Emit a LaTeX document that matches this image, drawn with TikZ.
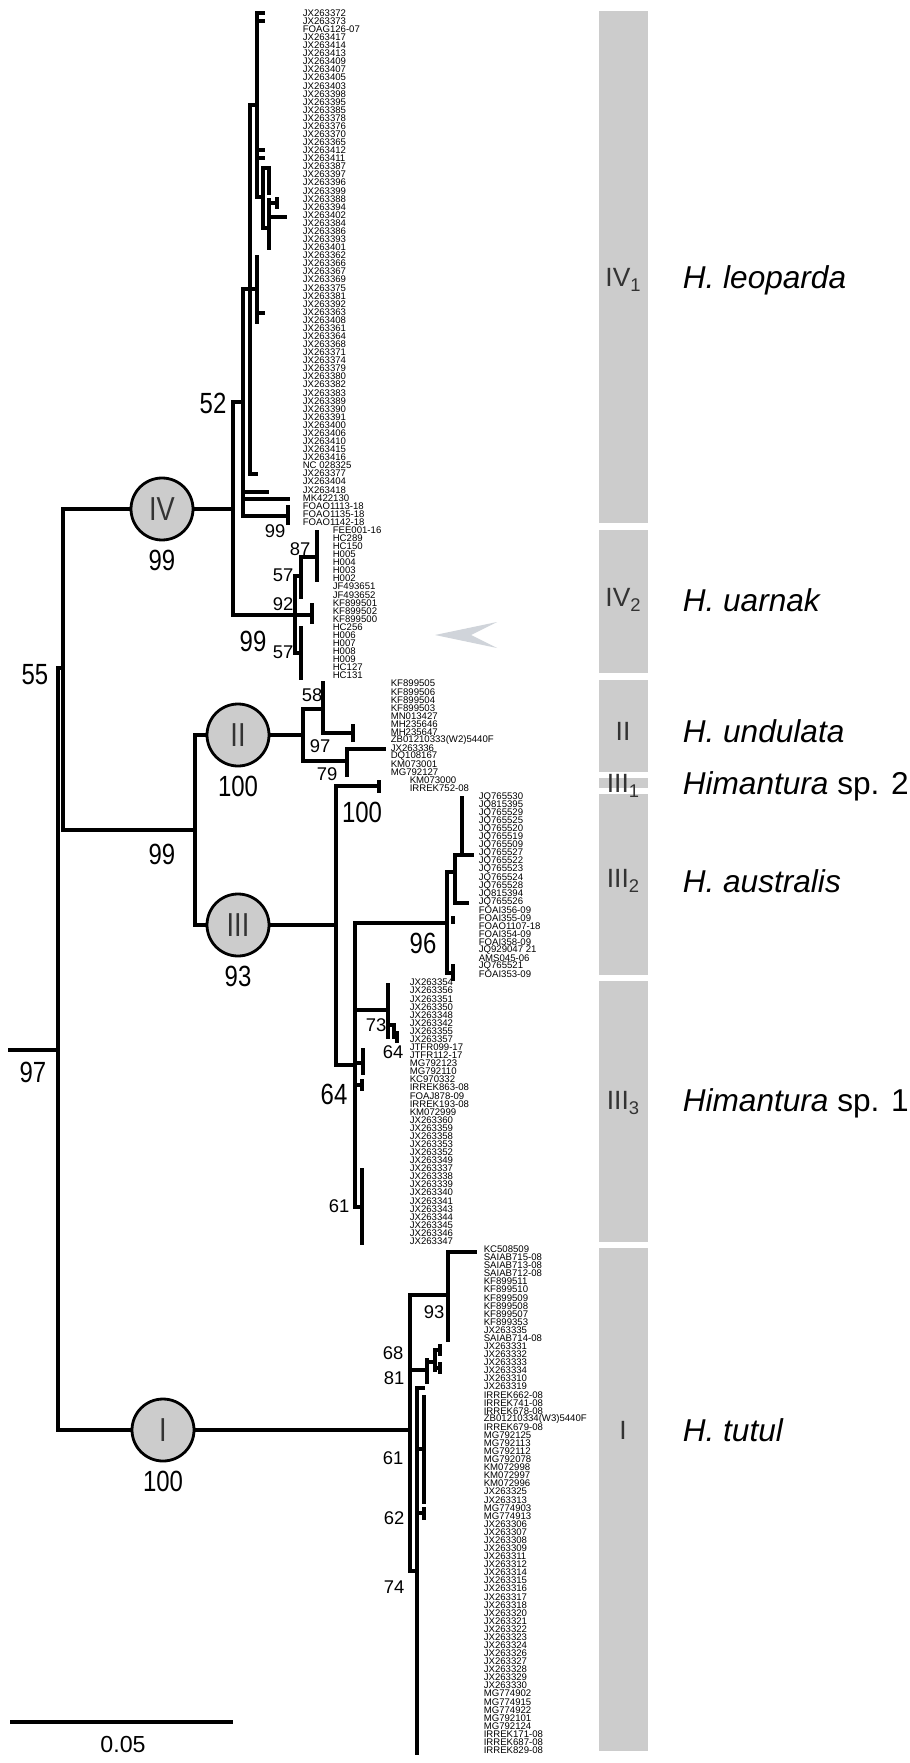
\documentclass[tikz,border=0pt]{standalone}
\usepackage{fontspec}
\setmainfont{Liberation Sans}
\newfontfamily\condfont[FakeStretch=0.82]{Liberation Sans}
\definecolor{bargray}{RGB}{204,204,204}
\definecolor{darktext}{RGB}{51,51,51}
\definecolor{arrowgray}{RGB}{208,212,218}
\newcommand{\sbs}[1]{\raisebox{-0.3ex}{\fontsize{4.6}{4.6}\selectfont #1}}
\newcommand{\leafcol}[3]{%
  \foreach \t [count=\k from #2] in {#3}
    \node[leaf] at (#1,{13+8.08*\k}) {\t};}
\tikzset{
  br/.style={line width=0.85pt, line join=miter, line cap=rect},
  leaf/.style={anchor=west, inner sep=0pt, font=\fontsize{2.4}{2.4}\selectfont},
  bsmall/.style={inner sep=0pt, font=\fontsize{4.6}{4.6}\selectfont},
  bbig/.style={inner sep=0pt, font=\condfont\fontsize{7.3}{7.3}\selectfont},
  clade/.style={circle, draw, line width=0.7pt, fill=bargray, minimum size=15.5pt,
    inner sep=0pt, text=darktext, font=\condfont\fontsize{8.3}{8.3}\selectfont},
  grp/.style={inner sep=0pt, text=darktext, font=\fontsize{6.6}{6.6}\selectfont},
  species/.style={anchor=west, inner sep=0pt, font=\fontsize{7.9}{7.9}\selectfont}
}
\begin{document}
\begin{tikzpicture}[x=0.25pt,y=-0.25pt]
\useasboundingbox (0,0) rectangle (909,1763);

% Clade bars
\foreach \ya/\yb in {11/523,530/673,680/772,778/788,794/975,981/1242,1248/1751}
  \fill[bargray] (599,\ya) rectangle (648,\yb);
\node[grp] (gIVa) at (623,280) {IV\sbs{1}};
\node[grp] (gIVb) at (623,600) {IV\sbs{2}};
\node[grp] (gII) at (623,731) {II};
\node[grp] (gIIIa) at (623,786) {III\sbs{1}};
\node[grp] (gIIIb) at (623,881) {III\sbs{2}};
\node[grp] (gIIIc) at (623,1103) {III\sbs{3}};
\node[grp] (gI) at (623,1430) {I};
\node[species] (sIVa) at (682,280) {\textit{H. leoparda}};
\node[species] (sIVb) at (682,600) {\textit{H. uarnak}};
\node[species] (sII) at (682,731) {\textit{H. undulata}};
\node[species] (sIIIa) at (682,786) {\textit{Himantura} sp. 2};
\node[species] (sIIIb) at (682,881) {\textit{H. australis}};
\node[species] (sIIIc) at (682,1103) {\textit{Himantura} sp. 1};
\node[species] (sI) at (682,1430) {\textit{H. tutul}};

% Pointer
\fill[arrowgray] (435,635) -- (497,622) -- (471,635) -- (497,648) -- cycle;

% Clade circles
\node[clade] (cIV) at (162,509) {IV};
\node[clade] (cII) at (238,735) {II};
\node[clade] (cIII) at (238,925) {III};
\node[clade] (cI) at (163,1430) {I};

% Deep nodes
\draw[br] (10,1050) -- (58,1050);
\draw[br] (58,668) -- (58,1430);
\draw[br] (58,668) -- (63,668);
\draw[br] (63,509) -- (63,830);
\draw[br] (63,509) -- (cIV) -- (233,509);
\draw[br] (63,830) -- (195,830);
\draw[br] (195,735) -- (195,925);
\draw[br] (195,735) -- (cII) -- (303,735);
\draw[br] (195,925) -- (cIII) -- (336,925);
\draw[br] (58,1430) -- (cI) -- (410,1430);

% IV1
\draw[br] (233,402) -- (233,615);
\draw[br] (233,402) -- (243,402);
\draw[br] (243,289) -- (243,516);
\draw[br] (243,289) -- (257,289);
\draw[br] (250,105) -- (250,474) -- (256,474);
\draw[br] (250,105) -- (257,105);
\draw[br] (257,13) -- (257,197) -- (263,197);
\foreach \y in {13,21,150,158}
  \draw[br] (257,\y) -- (263,\y);
\draw[br] (263,168) -- (263,228);
\draw[br] (263,168) -- (269,168) -- (269,193);
\draw[br] (263,228) -- (269,228);
\draw[br] (269,200) -- (269,248);
\draw[br] (269,203) -- (277,203);
\draw[br] (277,199) -- (277,207);
\draw[br] (269,217) -- (285,217);
\draw[br] (257,257) -- (257,322);
\draw[br] (257,313) -- (263,313);
\draw[br] (243,492) -- (267,492);
\draw[br] (243,499) -- (288,499);
\draw[br] (243,516) -- (288,516);
\draw[br] (288,507) -- (288,523);

% IV2
\draw[br] (233,615) -- (312,615);
\draw[br] (312,605) -- (312,622);
\draw[br] (295,576) -- (295,653);
\draw[br] (295,576) -- (301,576);
\draw[br] (301,557) -- (301,597);
\draw[br] (301,557) -- (317,557);
\draw[br] (317,532) -- (317,580);
\draw[br] (295,653) -- (301,653);
\draw[br] (301,628) -- (301,678);

% II
\draw[br] (303,709) -- (303,761);
\draw[br] (303,709) -- (323,709);
\draw[br] (323,683) -- (323,733) -- (353,733);
\draw[br] (353,726) -- (353,740);
\draw[br] (303,761) -- (347,761);
\draw[br] (347,749) -- (347,775);
\draw[br] (347,749) -- (384,749);

% III
\draw[br] (336,786) -- (336,1065) -- (355,1065);
\draw[br] (336,786) -- (379,786);
\draw[br] (379,782) -- (379,791);
\draw[br] (355,923) -- (355,1207) -- (362,1207);
\draw[br] (362,1170) -- (362,1243);
\draw[br] (355,923) -- (447,923);
\draw[br] (447,872) -- (447,973) -- (453,973);
\draw[br] (453,966) -- (453,979);
\draw[br] (453,918) -- (453,922);
\draw[br] (447,872) -- (455,872);
\draw[br] (455,855) -- (455,903) -- (467,903);
\draw[br] (455,855) -- (472,855);
\draw[br] (462,798) -- (462,855);
\draw[br] (355,1010) -- (388,1010);
\draw[br] (388,985) -- (388,1037);
\draw[br] (388,1025) -- (394,1025) -- (394,1037) -- (397,1037);
\draw[br] (397,1033) -- (397,1041);
\draw[br] (355,1063) -- (363,1063);
\draw[br] (363,1050) -- (363,1073);
\draw[br] (355,1085) -- (362,1085);
\draw[br] (362,1081) -- (362,1089);

% I
\draw[br] (410,1295) -- (410,1571) -- (417,1571);
\draw[br] (410,1295) -- (448,1295);
\draw[br] (448,1252) -- (448,1340);
\draw[br] (448,1252) -- (475,1252);
\draw[br] (410,1370) -- (427,1370);
\draw[br] (427,1360) -- (427,1382);
\draw[br] (427,1362) -- (435,1362);
\draw[br] (435,1350) -- (435,1370);
\draw[br] (435,1350) -- (440,1350);
\draw[br] (435,1368) -- (440,1368);
\draw[br] (440,1346) -- (440,1354);
\draw[br] (440,1364) -- (440,1372);
\draw[br] (417,1388) -- (417,1753);
\draw[br] (417,1388) -- (423,1388);
\draw[br] (417,1449) -- (424,1449);
\draw[br] (424,1397) -- (424,1502);
\draw[br] (417,1513) -- (424,1513);
\draw[br] (424,1509) -- (424,1518);

% Support values
\node[bbig] (b97) at (33,1072) {97};
\node[bbig] (b55) at (35,675) {55};
\node[bbig] (b99a) at (162,560) {99};
\node[bbig] (b52) at (213,403) {52};
\node[bbig] (b99b) at (253,641) {99};
\node[bbig] (b99c) at (162,854) {99};
\node[bbig] (b100a) at (238,786) {100};
\node[bbig] (b93a) at (238,976) {93};
\node[bbig] (b100b) at (362,812) {100};
\node[bbig] (b96) at (423,943) {96};
\node[bbig] (b64a) at (334,1094) {64};
\node[bbig] (b100c) at (163,1481) {100};
\foreach \v/\x/\y in {99/275/531, 87/300/549, 57/283/575, 92/283/604, 57/283/652,
    58/312/695, 97/320/746, 79/327/774, 73/376/1025, 64/393/1052, 61/339/1206,
    93/434/1312, 68/393/1353, 81/394/1378, 61/393/1458, 62/394/1518, 74/394/1587}
  \node[bsmall] at (\x,\y) {\v};

% Leaf labels
\leafcol{302}{0}{JX263372,JX263373,FOAG126-07,JX263417,JX263414,JX263413,JX263409,
  JX263407,JX263405,JX263403,JX263398,JX263395,JX263385,JX263378,JX263376,JX263370,
  JX263365,JX263412,JX263411,JX263387,JX263397,JX263396,JX263399,JX263388,JX263394,
  JX263402,JX263384,JX263386,JX263393,JX263401,JX263362,JX263366,JX263367,JX263369,
  JX263375,JX263381,JX263392,JX263363,JX263408,JX263361,JX263364,JX263368,JX263371,
  JX263374,JX263379,JX263380,JX263382,JX263383,JX263389,JX263390,JX263391,JX263400,
  JX263406,JX263410,JX263415,JX263416,NC 028325,JX263377,JX263404,JX263418,MK422130,
  FOAO1113-18,FOAO1135-18,FOAO1142-18}
\leafcol{332}{64}{FEE001-16,HC289,HC150,H005,H004,H003,H002,JF493651,JF493652,
  KF899501,KF899502,KF899500,HC256,H006,H007,H008,H009,HC127,HC131}
\leafcol{390}{83}{KF899505,KF899506,KF899504,KF899503,MN013427,MH235646,MH235647,
  {ZB01210333(W2)5440F},JX263336,DQ108167,KM073001,MG792127}
\leafcol{409}{95}{KM073000,IRREK752-08}
\leafcol{478}{97}{JQ765530,JQ815395,JQ765529,JQ765525,JQ765520,JQ765519,JQ765509,
  JQ765527,JQ765522,JQ765523,JQ765524,JQ765528,JQ815394,JQ765526,FOAI356-09,
  FOAI355-09,FOAO1107-18,FOAI354-09,FOAI358-09,JQ929047 21,AMS045-06,JQ765521,
  FOAI353-09}
\leafcol{409}{120}{JX263354,JX263356,JX263351,JX263350,JX263348,JX263342,JX263355,
  JX263357,JTFR099-17,JTFR112-17,MG792123,MG792110,KC970332,IRREK863-08,FOAJ878-09,
  IRREK193-08,KM072999,JX263360,JX263359,JX263358,JX263353,JX263352,JX263349,
  JX263337,JX263338,JX263339,JX263340,JX263341,JX263343,JX263344,JX263345,JX263346,
  JX263347}
\leafcol{483}{153}{KC508509,SAIAB715-08,SAIAB713-08,SAIAB712-08,KF899511,KF899510,
  KF899509,KF899508,KF899507,KF899353,JX263335,SAIAB714-08,JX263331,JX263332,
  JX263333,JX263334,JX263310,JX263319,IRREK662-08,IRREK741-08,IRREK678-08,
  {ZB01210334(W3)5440F},IRREK679-08,MG792125,MG792113,MG792112,MG792078,KM072998,
  KM072997,KM072996,JX263325,JX263313,MG774903,MG774913,JX263306,JX263307,JX263308,
  JX263309,JX263311,JX263312,JX263314,JX263315,JX263316,JX263317,JX263318,JX263320,
  JX263321,JX263322,JX263323,JX263324,JX263326,JX263327,JX263328,JX263329,JX263330,
  MG774902,MG774915,MG774922,MG792101,MG792124,IRREK171-08,IRREK687-08,IRREK829-08}

% Scale bar
\draw[line width=0.85pt] (10,1722) -- (233,1722);
\node[inner sep=0pt, font=\fontsize{5.8}{5.8}\selectfont] (scl) at (123,1744) {0.05};
\end{tikzpicture}
\end{document}
